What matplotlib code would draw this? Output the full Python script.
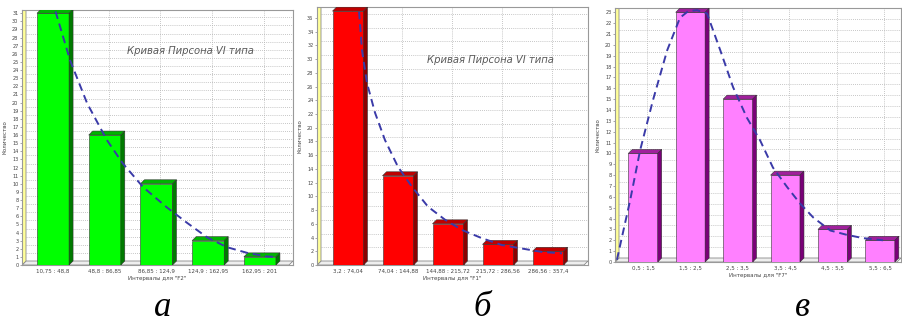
import matplotlib.pyplot as plt
from matplotlib.patches import Polygon, Rectangle

# interval labels and counts for each of the three samples
labels_a = ['10,75 : 48,8', '48,8 : 86,85', '86,85 : 124,9', '124,9 : 162,95', '162,95 : 201']
counts_a = [31, 16, 10, 3, 1]
labels_b = ['3,2 : 74,04', '74,04 : 144,88', '144,88 : 215,72', '215,72 : 286,56', '286,56 : 357,4']
counts_b = [37, 13, 6, 3, 2]
labels_c = ['0,5 : 1,5', '1,5 : 2,5', '2,5 : 3,5', '3,5 : 4,5', '4,5 : 5,5', '5,5 : 6,5']
counts_c = [10, 23, 15, 8, 3, 2]

# fitted Pearson curves, read at points along the category axis
curve_a_x = [0.0, 0.04, 0.33, 0.66, 1.04, 1.35, 1.74, 2.2, 2.59, 2.98, 3.36, 3.75, 4.14, 4.33]
curve_a_y = [33.0, 31.4, 25.2, 19.9, 15.4, 12.5, 9.6, 7.1, 5.2, 3.4, 2.2, 1.5, 1.05, 1.0]
curve_b_x = [0.2, 0.28, 0.38, 0.54, 0.74, 1.0, 1.28, 1.6, 1.94, 2.28, 2.68, 3.08, 3.48, 3.88, 4.28]
curve_b_y = [39.0, 31.3, 26.5, 22.2, 18.2, 14.3, 11.4, 8.5, 6.6, 5.1, 3.9, 2.9, 2.4, 1.9, 1.7]
curve_c_x = [-0.55, -0.27, -0.06, 0.21, 0.51, 0.78, 0.95, 1.14, 1.35, 1.63, 1.9, 2.19, 2.47,
             2.74, 3.04, 3.31, 3.59, 3.95, 4.3, 4.64, 5.06]
curve_c_y = [0.2, 5.7, 10.3, 14.9, 19.5, 22.5, 23.1, 23.2, 22.9, 19.5, 16.1, 13.3, 11.2,
             8.7, 6.9, 5.4, 4.1, 2.9, 2.5, 2.2, 2.0]

W, H = 902, 323
DEPTH = 4  # px, depth of the 3D bars

fig = plt.figure(figsize=(W / 100, H / 100), dpi=100)
fig.patch.set_facecolor('white')


def make_axes(l, t, r, b):
    return fig.add_axes([l / W, 1 - b / H, (r - l) / W, (b - t) / H])


def draw_panel(ax, labels, counts, xlim, ylim, yticks, colors, xlabel,
               cx, cy, caption=None, cap_pos=None):
    front, top, side = colors
    ax.set_xlim(*xlim)
    ax.set_ylim(*ylim)
    bbox = ax.get_position()
    ppx = bbox.width * W / (xlim[1] - xlim[0])
    ppy = bbox.height * H / (ylim[1] - ylim[0])
    dx, dy = DEPTH / ppx, DEPTH / ppy

    # back wall grid
    for yt in yticks:
        ax.plot([xlim[0], xlim[1]], [yt + dy, yt + dy], color='#b4b4b4', lw=0.6,
                ls=(0, (1, 1.5)), zorder=1)
    for i in range(len(labels)):
        ax.plot([i + dx, i + dx], [dy, ylim[1]], color='#b4b4b4', lw=0.6,
                ls=(0, (1, 1.5)), zorder=1)

    # floor and left wall
    floor = Polygon([(xlim[0], 0), (xlim[1] - dx, 0), (xlim[1], dy), (xlim[0] + dx, dy)],
                    closed=True, facecolor='#eeeeee', edgecolor='#888888', lw=0.6, zorder=2)
    ax.add_patch(floor)
    wall = Polygon([(xlim[0], 0), (xlim[0] + dx, dy), (xlim[0] + dx, ylim[1]), (xlim[0], ylim[1])],
                   closed=True, facecolor='#ffff99', edgecolor='#888888', lw=0.6, zorder=2)
    ax.add_patch(wall)

    w = 0.62
    for i, h in enumerate(counts):
        x0 = i - w / 2
        ax.add_patch(Rectangle((x0, 0), w, h, facecolor=front, edgecolor='#333333',
                               lw=0.4, zorder=3))
        ax.add_patch(Polygon([(x0, h), (x0 + w, h), (x0 + w + dx, h + dy), (x0 + dx, h + dy)],
                             closed=True, facecolor=top, edgecolor='#333333', lw=0.4, zorder=3))
        ax.add_patch(Polygon([(x0 + w, 0), (x0 + w + dx, dy), (x0 + w + dx, h + dy), (x0 + w, h)],
                             closed=True, facecolor=side, edgecolor='#333333', lw=0.4, zorder=3))

    ax.plot(cx, cy, color='#3a3aa8', lw=1.4, ls=(0, (4, 2.5)), zorder=4)

    ax.set_xticks(range(len(labels)))
    ax.set_xticklabels(labels, fontsize=4, color='#444444')
    ax.set_yticks(yticks)
    ax.set_yticklabels([str(v) for v in yticks], fontsize=3.6, color='#444444')
    ax.tick_params(axis='x', length=0, pad=3)
    ax.tick_params(axis='y', length=1.5, width=0.4, pad=1, color='#666666')
    ax.set_xlabel(xlabel, fontsize=4, color='#444444', labelpad=1.5)
    ax.set_ylabel('Количество', fontsize=4, color='#444444', labelpad=3)
    for s in ax.spines.values():
        s.set_color('#999999')
        s.set_linewidth(0.8)

    if caption:
        ax.text(cap_pos[0], cap_pos[1], caption, transform=ax.transAxes, ha='center',
                va='center', fontsize=8, style='italic', fontstretch='condensed',
                fontweight='light', color='#5a5a5a', family='DejaVu Sans')


ax_a = make_axes(22, 10, 293, 265)
draw_panel(ax_a, labels_a, counts_a, (-0.6, 4.64), (0, 31.4), list(range(0, 32)),
           ('#00ff00', '#00b400', '#007a00'), 'Интервалы для "F2"',
           curve_a_x, curve_a_y, 'Кривая Пирсона VI типа', (0.62, 0.84))

ax_b = make_axes(317, 7, 588, 265)
draw_panel(ax_b, labels_b, counts_b, (-0.62, 4.8), (0, 37.6), list(range(0, 37, 2)),
           ('#ff0000', '#c00000', '#8a0000'), 'Интервалы для "F1"',
           curve_b_x, curve_b_y, 'Кривая Пирсона VI типа', (0.64, 0.795))

ax_c = make_axes(615, 8, 901, 262)
draw_panel(ax_c, labels_c, counts_c, (-0.59, 5.44), (0, 23.4), list(range(0, 24)),
           ('#ff80ff', '#a0209c', '#7a0078'), 'Интервалы для "F7"',
           curve_c_x, curve_c_y)

# panel letters
for x, letter in [(163, 'а'), (482, 'б'), (803, 'в')]:
    fig.text(x / W, 1 - 316 / H, letter, ha='center', va='baseline', fontsize=25,
             style='italic', family='Liberation Serif')

fig.savefig('out.png', dpi=100)
